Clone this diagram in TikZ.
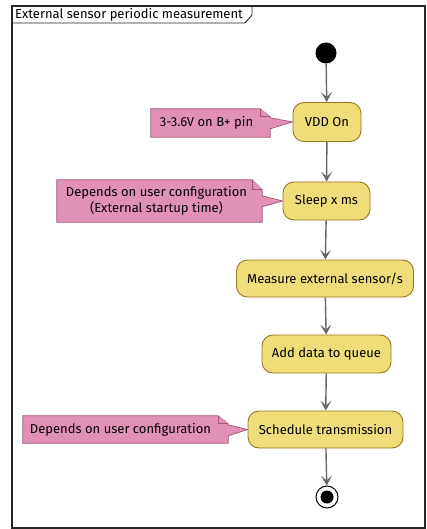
\documentclass[tikz,border=0pt]{standalone}
\usepackage{fontspec}
\setmainfont{Fira Sans}
\usetikzlibrary{arrows.meta,calc}
\definecolor{actfill}{RGB}{240,220,120}
\definecolor{actdraw}{RGB}{150,120,35}
\definecolor{notefill}{RGB}{225,145,182}
\definecolor{notedraw}{RGB}{160,85,115}
\definecolor{arrowc}{RGB}{102,102,102}
\tikzset{
  act/.style={draw=actdraw, fill=actfill, line width=0.9pt, rounded corners=11pt,
    font=\fontsize{13}{15}\selectfont, inner sep=0pt, minimum height=38pt},
  notetext/.style={draw=none, inner sep=0pt, font=\fontsize{13}{15.5}\selectfont, align=center},
  noteshape/.style={draw=notedraw, fill=notefill, line width=0.7pt, line join=miter},
  flow/.style={draw=arrowc, line width=1.4pt, -{Stealth[length=10pt,width=11pt,inset=5pt]}},
}
\begin{document}
\begin{tikzpicture}[x=1pt,y=-1pt]
\useasboundingbox (0,0) rectangle (427,529);
% frame
\draw[line width=1.1pt, draw=black!85] (12,6) rectangle (425,528);
\draw[line width=0.9pt, draw=black!85] (12,23) -- (245,23) -- (252,15) -- (252,6);
\node[anchor=west, inner sep=0pt, font=\fontsize{13}{15}\selectfont] (title) at (15,15) {External sensor periodic measurement};

% start / end
\node[circle, fill=black, minimum size=21pt, inner sep=0pt] (start) at (326,53) {};
\node[circle, draw=black, line width=1pt, minimum size=22pt, inner sep=0pt] (end) at (327,497) {};
\fill[black] (end.center) circle (6.5pt);

% activities
\node[act, minimum width=68pt, minimum height=39pt] (vdd) at (327,122) {VDD On};
\node[act, minimum width=87pt] (sleep) at (326.5,201) {Sleep x ms};
\node[act, minimum width=177pt, minimum height=37pt] (meas) at (325,278.5) {Measure external sensor/s};
\node[act, minimum width=129pt] (add) at (326.5,354) {Add data to queue};
\node[act, minimum width=155pt, minimum height=37pt] (sched) at (325.5,429.5) {Schedule transmission};

% notes
\node[notetext, minimum width=119pt, minimum height=28pt] (n1) at (210.5,123) {};
\node[notetext, minimum width=205pt, minimum height=42pt] (n2) at (159.5,201) {};
\node[notetext, minimum width=205pt, minimum height=27pt] (n3) at (125.5,429.5) {};

\draw[noteshape] (n1.south west) -- (n1.north west) -- ([xshift=-10pt]n1.north east)
  -- ([yshift=-8pt]n1.north east) -- ($(n1.north east)+(0,9)$) -- (vdd.west)
  -- ($(n1.north east)+(0,20)$) -- (n1.south east) -- cycle;
\draw[noteshape] ([xshift=-10pt]n1.north east) -- ++(0,8) -- ([yshift=-8pt]n1.north east);
\node[notetext] at ($(n1.center)+(-4,0)$) {3-3.6V on B+ pin};

\draw[noteshape] (n2.south west) -- (n2.north west) -- ([xshift=-10pt]n2.north east)
  -- ([yshift=-10pt]n2.north east) -- ($(n2.north east)+(0,16)$) -- (sleep.west)
  -- ($(n2.north east)+(0,27)$) -- (n2.south east) -- cycle;
\draw[noteshape] ([xshift=-10pt]n2.north east) -- ++(0,10) -- ([yshift=-10pt]n2.north east);
\node[notetext] at ($(n2.center)+(-3,0)$) {Depends on user configuration\\(External startup time)};

\draw[noteshape] (n3.south west) -- (n3.north west) -- ([xshift=-10pt]n3.north east)
  -- ([yshift=-8pt]n3.north east) -- ($(n3.north east)+(0,9)$) -- (sched.west)
  -- ($(n3.north east)+(0,20)$) -- (n3.south east) -- cycle;
\draw[noteshape] ([xshift=-10pt]n3.north east) -- ++(0,8) -- ([yshift=-8pt]n3.north east);
\node[notetext] at ($(n3.center)+(-5,0)$) {Depends on user configuration};

% flow
\draw[flow] (start) -- (vdd);
\draw[flow] (vdd) -- (sleep);
\draw[flow] (sleep) -- (meas);
\draw[flow] (meas) -- (add);
\draw[flow] (add) -- (sched);
\draw[flow] (sched) -- (end);
\end{tikzpicture}
\end{document}
